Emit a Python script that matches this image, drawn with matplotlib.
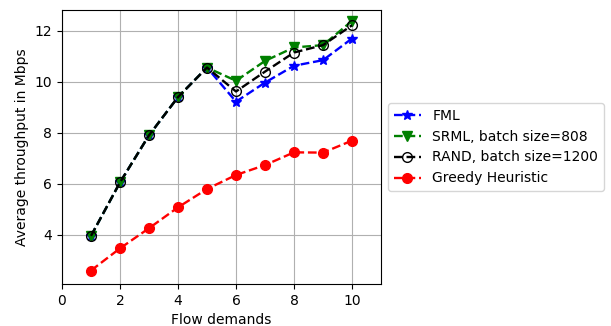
import matplotlib
matplotlib.use("Agg")
import matplotlib.pyplot as plt

x = [1, 2, 3, 4, 5, 6, 7, 8, 9, 10]
fml = [3.95, 6.05, 7.9, 9.4, 10.56, 9.22, 9.97, 10.63, 10.85, 11.70]
srml = [3.95, 6.05, 7.9, 9.4, 10.56, 10.04, 10.82, 11.35, 11.44, 12.39]
rand = [3.95, 6.05, 7.9, 9.4, 10.56, 9.62, 10.40, 11.15, 11.44, 12.22]
greedy = [2.59, 3.46, 4.25, 5.07, 5.79, 6.34, 6.73, 7.23, 7.22, 7.69]

plt.rcParams['font.size'] = 10
fig = plt.figure(figsize=(6.11, 3.26), dpi=100)
ax = fig.add_axes([62/611, 1-284/326, (381-62)/611, (284-10)/326])

lw = 1.7
ax.plot(x, fml, '--', color='blue', marker='*', markersize=7.5, lw=lw, label='FML')
ax.plot(x, srml, '--', color='green', marker='v', markersize=7, lw=lw, label='SRML, batch size=808')
ax.plot(x, rand, '--', color='black', marker='o', mfc='none', markersize=7, lw=lw, label='RAND, batch size=1200')
ax.plot(x, greedy, '--', color='red', marker='o', markersize=7, lw=lw, label='Greedy Heuristic')

ax.set_xlim(0, 11)
ax.set_ylim(2.06, 12.82)
ax.set_xticks([0, 2, 4, 6, 8, 10])
ax.set_yticks([4, 6, 8, 10, 12])
ax.grid(True)
ax.set_xlabel('Flow demands')
ax.set_ylabel('Average throughput in Mbps')
ax.legend(loc='center left', bbox_to_anchor=(1.0, 0.5))

fig.savefig('out.png', dpi=100)
